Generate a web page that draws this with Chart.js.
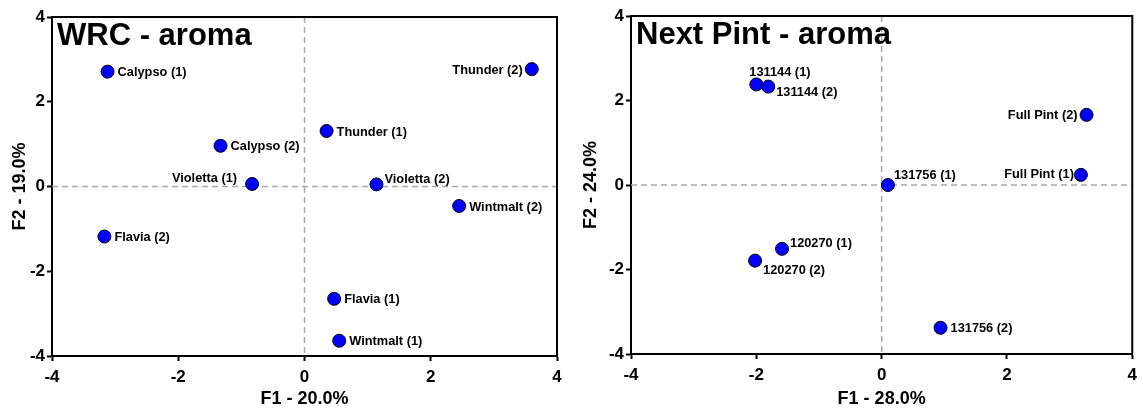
<!DOCTYPE html>
<html>
<head>
<meta charset="utf-8">
<script src="https://cdn.jsdelivr.net/npm/chart.js@4/dist/chart.umd.min.js"></script>
<style>
  html, body { margin: 0; padding: 0; background: #fff; }
  #wrap { position: relative; width: 1143px; height: 410px; }
  .panel { position: absolute; top: 0; height: 410px; }
  #p1 { left: 0; width: 571px; }
  #p2 { left: 571px; width: 572px; }
</style>
</head>
<body>
<div id="wrap">
  <div class="panel" id="p1"><canvas id="c1"></canvas></div>
  <div class="panel" id="p2"><canvas id="c2"></canvas></div>
</div>
<script>
// Shared axis ticks
const axisTicks = [-4, -2, 0, 2, 4];

// WRC - aroma
const wrcNames = ['Calypso (1)', 'Calypso (2)', 'Violetta (1)', 'Thunder (2)', 'Thunder (1)',
                  'Violetta (2)', 'Flavia (2)', 'Wintmalt (2)', 'Flavia (1)', 'Wintmalt (1)'];
const wrcF1 = [-3.12, -1.33, -0.83, 3.60, 0.35, 1.14, -3.17, 2.45, 0.47, 0.55];
const wrcF2 = [2.71, 0.96, 0.06, 2.77, 1.31, 0.05, -1.18, -0.46, -2.65, -3.64];
const wrcPlace = ['E', 'E', 'NW', 'W', 'E', 'NE', 'E', 'E', 'E', 'E'];

// Next Pint - aroma
const npNames = ['131144 (1)', '131144 (2)', 'Full Pint (2)', 'Full Pint (1)', '131756 (1)',
                 '120270 (1)', '120270 (2)', '131756 (2)'];
const npF1 = [-2.00, -1.81, 3.27, 3.18, 0.10, -1.59, -2.02, 0.94];
const npF2 = [2.38, 2.33, 1.66, 0.24, 0.00, -1.51, -1.79, -3.38];
const npPlace = ['N', 'SE', 'W', 'W2', 'NNE', 'NE', 'SSE', 'E'];

// Label offsets relative to the marker centre
const PLACE = {
  E:   { dx: 10,  dy: 1,   align: 'left'  },
  W:   { dx: -9,  dy: 1,   align: 'right' },
  W2:  { dx: -7,  dy: 0,   align: 'right' },
  NW:  { dx: -15, dy: -5,  align: 'right' },
  NE:  { dx: 8,   dy: -5,  align: 'left'  },
  NNE: { dx: 6,   dy: -10, align: 'left'  },
  N:   { dx: -7,  dy: -12, align: 'left'  },
  SE:  { dx: 8,   dy: 6,   align: 'left'  },
  SSE: { dx: 8,   dy: 10,  align: 'left'  }
};

const FONT = "'Liberation Sans', Arial, sans-serif";

const decorPlugin = {
  id: 'decor',
  beforeDatasetsDraw(chart) {
    const { ctx, chartArea: a, scales: { x, y } } = chart;
    const x0 = x.getPixelForValue(0);
    const y0 = y.getPixelForValue(0);
    ctx.save();
    ctx.strokeStyle = '#a8a8a8';
    ctx.lineWidth = 1.5;
    ctx.setLineDash([6, 4]);
    ctx.beginPath();
    ctx.moveTo(x0, a.top); ctx.lineTo(x0, a.bottom);
    ctx.moveTo(a.left, y0); ctx.lineTo(a.right, y0);
    ctx.stroke();
    ctx.restore();
  },
  afterDatasetsDraw(chart, args, opts) {
    const { ctx, chartArea: a } = chart;
    ctx.save();
    // top and right edges of the frame
    ctx.strokeStyle = '#000';
    ctx.lineWidth = 2;
    ctx.beginPath();
    ctx.moveTo(a.left, a.top);
    ctx.lineTo(a.right, a.top);
    ctx.lineTo(a.right, a.bottom);
    ctx.stroke();
    // panel heading
    ctx.fillStyle = '#000';
    ctx.font = 'bold 31px ' + FONT;
    ctx.textAlign = 'left';
    ctx.textBaseline = 'alphabetic';
    ctx.fillText(opts.heading, a.left + 5, a.top + 28);
    // point labels
    const meta = chart.getDatasetMeta(0);
    ctx.font = 'bold 12.8px ' + FONT;
    ctx.textBaseline = 'middle';
    meta.data.forEach((pt, i) => {
      const p = PLACE[opts.places[i]];
      ctx.textAlign = p.align;
      ctx.fillText(opts.names[i], pt.x + p.dx, pt.y + p.dy);
    });
    ctx.restore();
  }
};

function makeChart(id, f1, f2, names, places, heading, xTitle, yTitle, area) {
  const points = f1.map((v, i) => ({ x: v, y: f2[i] }));
  const axisCommon = (title, pad) => ({
    type: 'linear',
    min: axisTicks[0],
    max: axisTicks[axisTicks.length - 1],
    afterBuildTicks: (s) => { s.ticks = axisTicks.map(v => ({ value: v })); },
    ticks: {
      color: '#000',
      font: { family: FONT, size: 17, weight: 'bold' },
      padding: pad,
      callback: (v) => String(v)
    },
    grid: {
      drawOnChartArea: false,
      drawTicks: true,
      tickLength: 5,
      tickColor: '#000',
      tickWidth: 2
    },
    border: { display: true, color: '#000', width: 2 },
    title: {
      display: true,
      text: title,
      color: '#000',
      font: { family: FONT, size: 18, weight: 'bold' }
    }
  });
  const xAxis = axisCommon(xTitle, 6);
  xAxis.title.padding = { top: 0, bottom: 0 };
  xAxis.afterFit = (s) => { s.height = area.xHeight; };
  const yAxis = axisCommon(yTitle, 2);
  yAxis.title.padding = { top: 9, bottom: 0 };
  yAxis.afterFit = (s) => { s.width = area.yWidth; };

  return new Chart(document.getElementById(id), {
    type: 'scatter',
    data: {
      datasets: [{
        data: points,
        backgroundColor: '#0000ff',
        borderColor: '#000',
        borderWidth: 1,
        pointRadius: 6.5,
        pointHoverRadius: 6.5
      }]
    },
    options: {
      responsive: true,
      maintainAspectRatio: false,
      animation: false,
      events: [],
      layout: { padding: { top: area.top, right: area.right, bottom: 0, left: 0 } },
      plugins: {
        legend: { display: false },
        tooltip: { enabled: false },
        decor: { heading, names, places }
      },
      scales: { x: xAxis, y: yAxis }
    },
    plugins: [decorPlugin]
  });
}

makeChart('c1', wrcF1, wrcF2, wrcNames, wrcPlace, 'WRC - aroma', 'F1 - 20.0%', 'F2 - 19.0%',
          { top: 17, right: 14, xHeight: 54, yWidth: 52 });
makeChart('c2', npF1, npF2, npNames, npPlace, 'Next Pint - aroma', 'F1 - 28.0%', 'F2 - 24.0%',
          { top: 16, right: 8, xHeight: 56, yWidth: 60 });
</script>
</body>
</html>
